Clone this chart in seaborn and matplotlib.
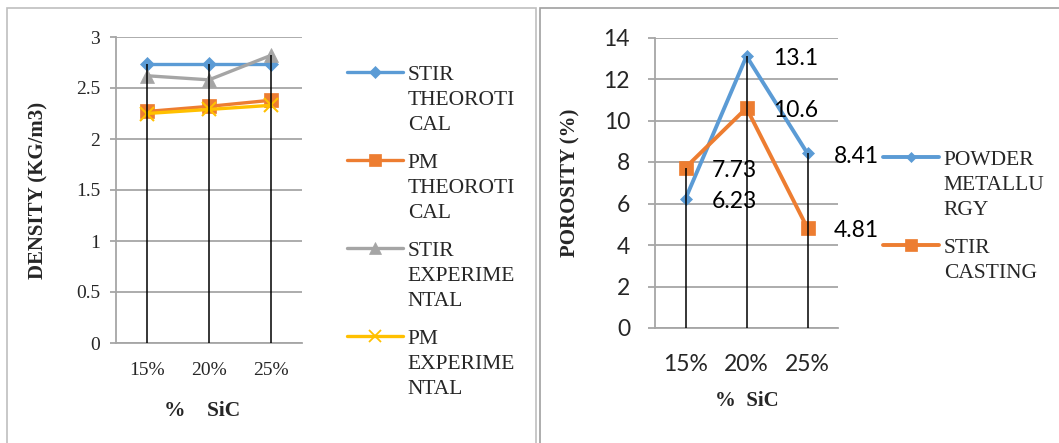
import numpy as np
import matplotlib
matplotlib.use("Agg")
import matplotlib.pyplot as plt
import seaborn as sns
from matplotlib.legend_handler import HandlerLine2D
from matplotlib.patches import Rectangle
from matplotlib.lines import Line2D

sns.set_theme(style="white")
plt.rcParams['font.family'] = ['Liberation Serif', 'DejaVu Serif']

# ---------------- data ----------------
categories = ["15%", "20%", "25%"]

density_stir_theo = [2.74, 2.74, 2.74]
density_pm_theo = [2.27, 2.32, 2.38]
density_stir_exp = [2.62, 2.58, 2.82]
density_pm_exp = [2.25, 2.29, 2.33]
density_labels = ["STIR\nTHEOROTI\nCAL", "PM\nTHEOROTI\nCAL",
                  "STIR\nEXPERIME\nNTAL", "PM\nEXPERIME\nNTAL"]
density_ticks = [0, 0.5, 1, 1.5, 2, 2.5, 3]
density_tick_labels = ["0", "0.5", "1", "1.5", "2", "2.5", "3"]

porosity_pm = [6.23, 13.1, 8.41]
porosity_stir = [7.73, 10.6, 4.81]
porosity_labels = ["POWDER\nMETALLU\nRGY", "STIR\nCASTING"]
porosity_ticks = [0, 2, 4, 6, 8, 10, 12, 14]

# ---------------- styling ----------------
BLUE = "#5B9BD5"
ORANGE = "#ED7D31"
GRAY = "#A5A5A5"
YELLOW = "#FFC000"
GRID = "#A6A6A6"
SANS = ["Lato", "DejaVu Sans"]
LEG_FS = 15.5
LEG_LS = 1.415

W, H = 1059, 443
fig = plt.figure(figsize=(W / 100, H / 100), dpi=100)


def px_axes(l, t, r, b):
    return fig.add_axes([l / W, 1 - b / H, (r - l) / W, (b - t) / H])


class TopLineHandler(HandlerLine2D):
    def __init__(self, shift, **kw):
        super().__init__(**kw)
        self.shift = shift

    def create_artists(self, legend, orig_handle, xdescent, ydescent,
                       width, height, fontsize, trans):
        arts = super().create_artists(legend, orig_handle, xdescent, ydescent,
                                      width, height, fontsize, trans)
        for a in arts:
            a.set_ydata(np.asarray(a.get_ydata(), float) + self.shift)
        return arts


def style_axes(ax, ymax, ticks):
    ax.set_xlim(-0.5, 2.5)
    ax.set_ylim(0, ymax)
    ax.set_yticks(ticks)
    ax.set_xticks(np.arange(len(categories)))
    ax.set_xticklabels(categories)
    ax.yaxis.grid(True, color=GRID, lw=1.3)
    ax.xaxis.grid(False)
    ax.set_axisbelow(True)
    for s in ["top", "right"]:
        ax.spines[s].set_visible(False)
    for s in ["left", "bottom"]:
        ax.spines[s].set_color(GRID)
        ax.spines[s].set_linewidth(1.3)
    ax.tick_params(axis="y", left=True, length=4.5, width=1.3, color=GRID, pad=8)
    ax.tick_params(axis="x", bottom=False, length=0, pad=14)
    ax.set_facecolor("none")


xpos = np.arange(len(categories))

# ---------------- left: density ----------------
ax1 = px_axes(116, 37, 302, 343)
series1 = [
    (density_stir_theo, BLUE, "D", 7),
    (density_pm_theo, ORANGE, "s", 10),
    (density_stir_exp, GRAY, "^", 10),
    (density_pm_exp, YELLOW, "x", 10),
]
handles1 = []
for vals, col, mk, ms in series1:
    sns.lineplot(x=xpos, y=vals, ax=ax1, color=col, lw=2.4, marker=mk,
                 markersize=ms, markeredgecolor=col, markerfacecolor=col,
                 markeredgewidth=1.5 if mk == "x" else 0.5, legend=False)
    handles1.append(Line2D([], [], color=col, lw=2.4, marker=mk,
                           markersize=ms * 0.85, markeredgecolor=col,
                           markerfacecolor=col,
                           markeredgewidth=1.3 if mk == "x" else 0.5))
top1 = np.max([density_stir_theo, density_pm_theo, density_stir_exp, density_pm_exp], axis=0)
ax1.vlines(xpos, 0, top1, color="black", lw=1.1, zorder=5)
style_axes(ax1, 3, density_ticks)
ax1.set_yticklabels(density_tick_labels)
ax1.tick_params(labelsize=14)
ax1.tick_params(axis="y", pad=7)
ax1.set_xlabel("%    SiC", fontsize=15.5, fontweight="bold")
ax1.xaxis.set_label_coords(0.462, -0.19)
ax1.set_ylabel("DENSITY (KG/m3)", fontsize=15, fontweight="bold", labelpad=19.5)

leg1 = ax1.legend(handles1, density_labels, loc="upper left",
                  bbox_to_anchor=(347 / W, 1 - 66.5 / H),
                  bbox_transform=fig.transFigure, frameon=False,
                  fontsize=LEG_FS, handlelength=2.6, handletextpad=0.22,
                  labelspacing=0.9, borderpad=0, borderaxespad=0,
                  handler_map={h: TopLineHandler(20) for h in handles1})
for t in leg1.get_texts():
    t.set_linespacing(LEG_LS)

# ---------------- right: porosity ----------------
ax2 = px_axes(655, 37.5, 838, 328)
series2 = [
    (porosity_pm, BLUE, "D", 6.5),
    (porosity_stir, ORANGE, "s", 10),
]
handles2 = []
for vals, col, mk, ms in series2:
    sns.lineplot(x=xpos, y=vals, ax=ax2, color=col, lw=2.8, marker=mk,
                 markersize=ms, markeredgecolor=col, markerfacecolor=col,
                 markeredgewidth=0.5, legend=False)
    handles2.append(Line2D([], [], color=col, lw=2.8, marker=mk,
                           markersize=ms * 0.85, markeredgecolor=col,
                           markerfacecolor=col, markeredgewidth=0.5))
    for x, v in zip(xpos, vals):
        ax2.annotate(f"{v:g}", (x, v), xytext=(19, -2), textcoords="offset points",
                     ha="left", va="center", fontsize=16.5, family=SANS,
                     color="black", zorder=6)
top2 = np.max([porosity_pm, porosity_stir], axis=0)
ax2.vlines(xpos, 0, top2, color="black", lw=1.1, zorder=5)
style_axes(ax2, 14, porosity_ticks)
ax2.set_yticklabels([str(t) for t in porosity_ticks])
for lab in ax2.get_xticklabels() + ax2.get_yticklabels():
    lab.set_family(SANS)
    lab.set_fontsize(16.5)
ax2.tick_params(axis="y", length=5, pad=13)
ax2.tick_params(axis="x", pad=19)
ax2.set_xlabel("%  SiC", fontsize=15, fontweight="bold", labelpad=11)
ax2.set_ylabel("POROSITY (%)", fontsize=15, fontweight="bold", labelpad=16.5)

leg2 = ax2.legend(handles2, porosity_labels, loc="upper left",
                  bbox_to_anchor=(883 / W, 1 - 151 / H),
                  bbox_transform=fig.transFigure, frameon=False,
                  fontsize=LEG_FS, handlelength=2.6, handletextpad=0.22,
                  labelspacing=0.9, borderpad=0, borderaxespad=0,
                  handler_map={handles2[0]: TopLineHandler(20),
                               handles2[1]: TopLineHandler(11)})
for t in leg2.get_texts():
    t.set_linespacing(LEG_LS)

# ---------------- panel borders ----------------
fig.add_artist(Rectangle((7 / W, -0.1), (536.5 - 7) / W, 1.1 - 8 / H,
                         transform=fig.transFigure, fill=False,
                         edgecolor="#BFBFBF", lw=1.2))
fig.add_artist(Rectangle((539.5 / W, -0.1), 0.5, 1.1 - 8 / H,
                         transform=fig.transFigure, fill=False,
                         edgecolor="#A0A0A0", lw=1.2))

fig.savefig("out.png", dpi=100, facecolor="white")
